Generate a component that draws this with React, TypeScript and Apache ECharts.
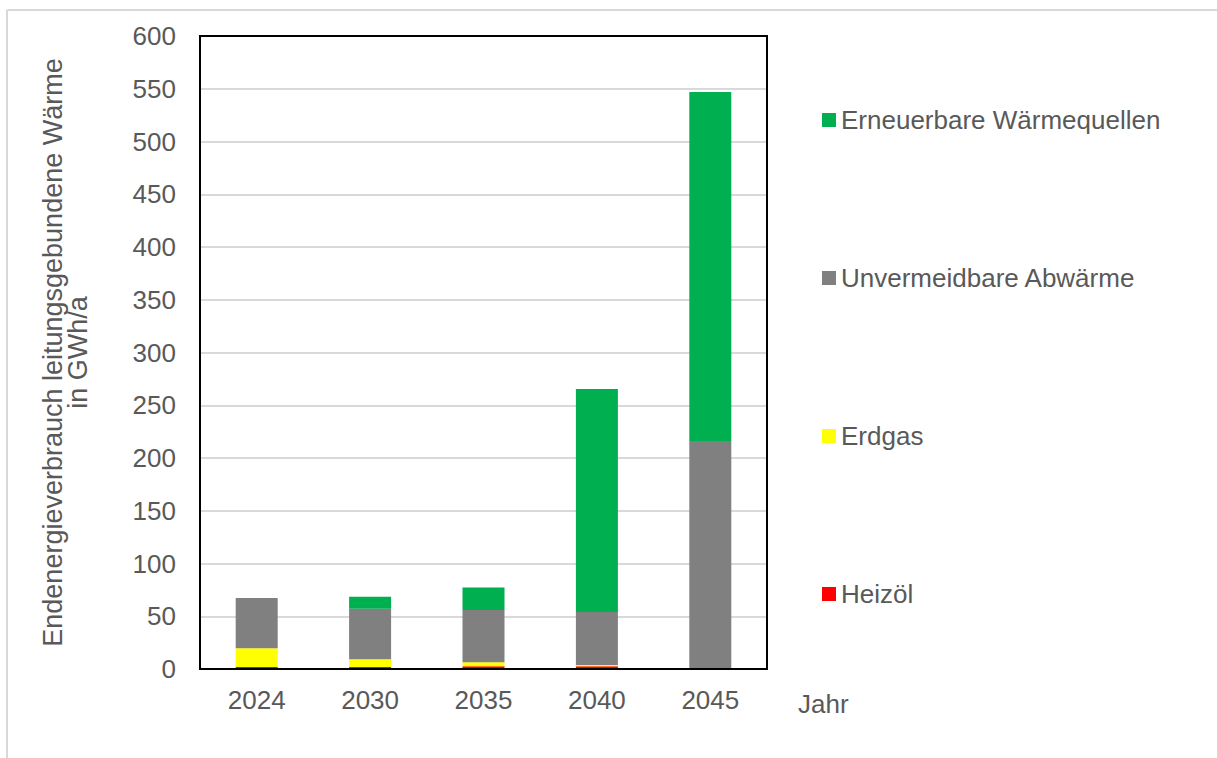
import React, { useEffect, useRef } from "react";
import * as echarts from "echarts";

const years = ["2024", "2030", "2035", "2040", "2045"];
const heizoel = [2, 2, 2.5, 2.5, 0];
const erdgas = [17.6, 7.2, 4, 1.2, 0];
const abwaerme = [47.7, 47.8, 49.4, 50.3, 216];
const erneuerbar = [0, 11.5, 21.4, 211.4, 331];
const yTicks = { min: 0, max: 600, interval: 50 };

const font = "'Liberation Sans', Arial, sans-serif";
const textColor = "#595959";

export default function App() {
  const ref = useRef<HTMLDivElement>(null);
  useEffect(() => {
    document.body.style.margin = "0";
    const chart = echarts.init(ref.current!, null, { renderer: "svg" });
    chart.setOption({
      animation: false,
      backgroundColor: "#ffffff",
      textStyle: { fontFamily: font },
      grid: {
        left: 200,
        right: 450,
        top: 36,
        bottom: 89,
        show: true,
        borderColor: "#000000",
        borderWidth: 2,
        z: 10,
      },
      legend: {
        orient: "vertical",
        left: 817,
        top: 102,
        itemWidth: 14,
        itemHeight: 14,
        itemGap: 132,
        icon: "rect",
        textStyle: { color: textColor, fontSize: 26, fontFamily: font },
        data: ["Erneuerbare Wärmequellen", "Unvermeidbare Abwärme", "Erdgas", "Heizöl"],
      },
      xAxis: {
        type: "category",
        data: years,
        axisLine: { show: false },
        axisTick: { show: false },
        axisLabel: { color: textColor, fontSize: 26, margin: 18, fontFamily: font },
      },
      yAxis: {
        type: "value",
        min: yTicks.min,
        max: yTicks.max,
        interval: yTicks.interval,
        name: "Endenergieverbrauch leitungsgebundene Wärme\nin GWh/a",
        nameLocation: "middle",
        nameRotate: 90,
        nameGap: 110,
        nameTextStyle: { color: textColor, fontSize: 27, lineHeight: 25, fontFamily: font },
        axisLine: { show: false },
        axisTick: { show: false },
        axisLabel: { color: textColor, fontSize: 26, margin: 24, fontFamily: font },
        splitLine: { lineStyle: { color: "#d9d9d9", width: 2 } },
      },
      graphic: [
        {
          type: "text",
          left: 798,
          top: 691,
          style: { text: "Jahr", fill: textColor, fontSize: 26, fontFamily: font },
        },
        {
          type: "line",
          shape: { x1: 7, y1: 10, x2: 1217, y2: 10 },
          style: { stroke: "#d9d9d9", lineWidth: 2 },
        },
        {
          type: "line",
          shape: { x1: 7, y1: 10, x2: 7, y2: 758 },
          style: { stroke: "#d9d9d9", lineWidth: 2 },
        },
      ],
      series: [
        { name: "Heizöl", type: "bar", stack: "s", data: heizoel, barWidth: 42, itemStyle: { color: "#ff0000" } },
        { name: "Erdgas", type: "bar", stack: "s", data: erdgas, barWidth: 42, itemStyle: { color: "#ffff00" } },
        { name: "Unvermeidbare Abwärme", type: "bar", stack: "s", data: abwaerme, barWidth: 42, itemStyle: { color: "#808080" } },
        { name: "Erneuerbare Wärmequellen", type: "bar", stack: "s", data: erneuerbar, barWidth: 42, itemStyle: { color: "#00b050" } },
      ],
    });
    return () => chart.dispose();
  }, []);
  return <div ref={ref} style={{ width: 1217, height: 758 }} />;
}
